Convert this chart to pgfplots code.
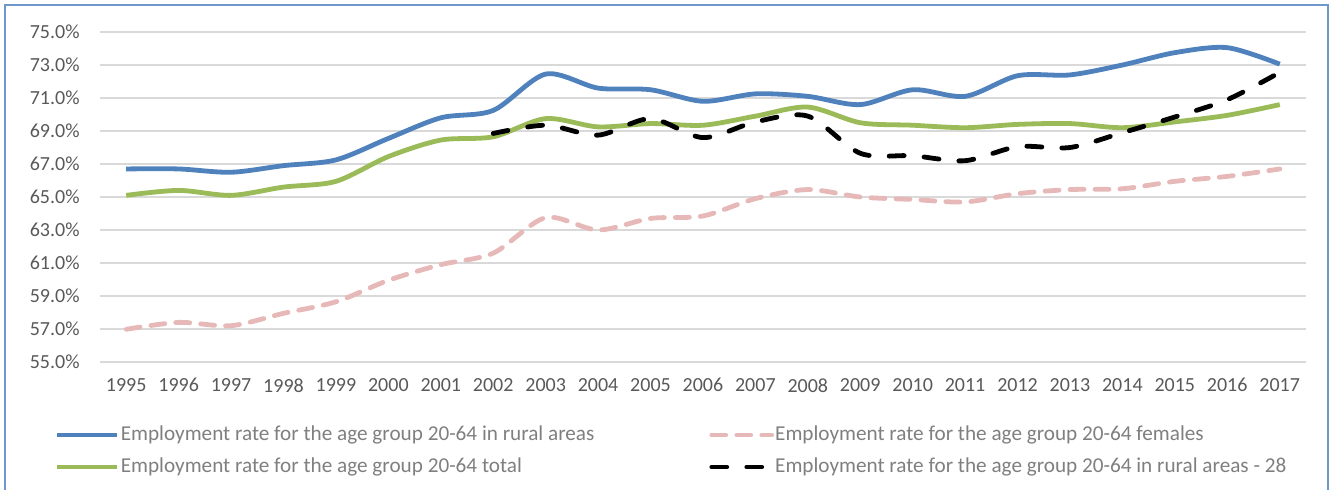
\documentclass[border=0pt]{standalone}
\usepackage{fontspec}
\setmainfont{Carlito}
\usepackage{pgfplots}
\pgfplotsset{compat=1.18}

\definecolor{ruralblue}{HTML}{4F81BD}
\definecolor{totalgreen}{HTML}{9BBB59}
\definecolor{femalepink}{HTML}{E6B9B8}
\definecolor{gridgray}{HTML}{D9D9D9}
\definecolor{ticktext}{HTML}{595959}
\definecolor{legtext}{HTML}{7F7F7F}
\definecolor{framecol}{HTML}{6F97CC}

\begin{document}
\begin{tikzpicture}
\useasboundingbox (0,0) rectangle (665.5bp,245bp);
\draw[framecol, line width=1bp] (2.5bp,-2bp) -- (2.5bp,242.5bp) -- (664bp,242.5bp) -- (664bp,-2bp);
\begin{axis}[
    at={(50bp,64bp)}, anchor=south west,
    scale only axis,
    width=603bp, height=165bp,
    xmin=1994.5, xmax=2017.5,
    ymin=55, ymax=75,
    xtick={1995,...,2017},
    ytick={55,57,...,75},
    axis line style={draw=none},
    major tick length=0pt,
    ymajorgrids,
    major grid style={gridgray, line width=0.8bp},
    /pgf/number format/assume math mode=true,
    /pgf/number format/1000 sep={},
    tick label style={font=\fontsize{10bp}{12bp}\selectfont, text=ticktext, inner sep=0pt},
    yticklabel={\pgfmathprintnumber[fixed,fixed zerofill,precision=1]{\tick}\%},
    yticklabel style={xshift=-10bp},
    xticklabel style={yshift=-8bp},
    legend columns=2,
    legend cell align=left,
    legend image code/.code={\draw[#1] (0bp,0bp) -- (30bp,0bp);},
    legend style={draw=none, fill=none, inner sep=0pt, outer sep=0pt,
        font=\fontsize{10.6bp}{12bp}\selectfont, text=legtext,
        at={(axis description cs:-0.0373,-0.2697)}, anchor=west,
        nodes={inner sep=0pt, text height=7.5bp, text depth=2bp},
        row sep=6.5bp, column sep=0.5bp,
        /tikz/column 2/.style={column sep=57.5bp}},
]
\addplot[ruralblue, line width=2.4bp, smooth] coordinates {
(1995,66.7) (1996,66.7) (1997,66.5) (1998,66.9) (1999,67.25) (2000,68.55)
(2001,69.8) (2002,70.25) (2003,72.45) (2004,71.6) (2005,71.5) (2006,70.8)
(2007,71.25) (2008,71.1) (2009,70.6) (2010,71.5) (2011,71.1) (2012,72.35)
(2013,72.4) (2014,73.0) (2015,73.75) (2016,74.05) (2017,73.05)
};
\addlegendentry{Employment rate for the age group 20-64 in rural areas}
\addplot[femalepink, line width=2.4bp, smooth, line cap=round, dash pattern=on 7bp off 5.5bp] coordinates {
(1995,56.98) (1996,57.4) (1997,57.2) (1998,57.95) (1999,58.65) (2000,59.95)
(2001,60.9) (2002,61.6) (2003,63.75) (2004,63.0) (2005,63.7) (2006,63.85)
(2007,64.9) (2008,65.45) (2009,65.0) (2010,64.85) (2011,64.7) (2012,65.2)
(2013,65.45) (2014,65.5) (2015,65.95) (2016,66.25) (2017,66.7)
};
\addlegendentry{Employment rate for the age group 20-64 females}
\addplot[totalgreen, line width=2.4bp, smooth] coordinates {
(1995,65.1) (1996,65.4) (1997,65.1) (1998,65.6) (1999,65.95) (2000,67.45)
(2001,68.45) (2002,68.65) (2003,69.75) (2004,69.25) (2005,69.45) (2006,69.35)
(2007,69.9) (2008,70.45) (2009,69.5) (2010,69.35) (2011,69.2) (2012,69.4)
(2013,69.45) (2014,69.2) (2015,69.55) (2016,69.95) (2017,70.6)
};
\addlegendentry{Employment rate for the age group 20-64 total}
\addplot[black, line width=2.4bp, smooth, line cap=round, dash pattern=on 7.5bp off 10bp] coordinates {
(2002,68.85) (2003,69.35) (2004,68.75) (2005,69.75) (2006,68.6) (2007,69.55)
(2008,69.9) (2009,67.65) (2010,67.5) (2011,67.2) (2012,68.05) (2013,68.0)
(2014,68.9) (2015,69.85) (2016,70.9) (2017,72.55)
};
\addlegendentry{Employment rate for the age group 20-64 in rural areas - 28}
\end{axis}
\end{tikzpicture}
\end{document}
